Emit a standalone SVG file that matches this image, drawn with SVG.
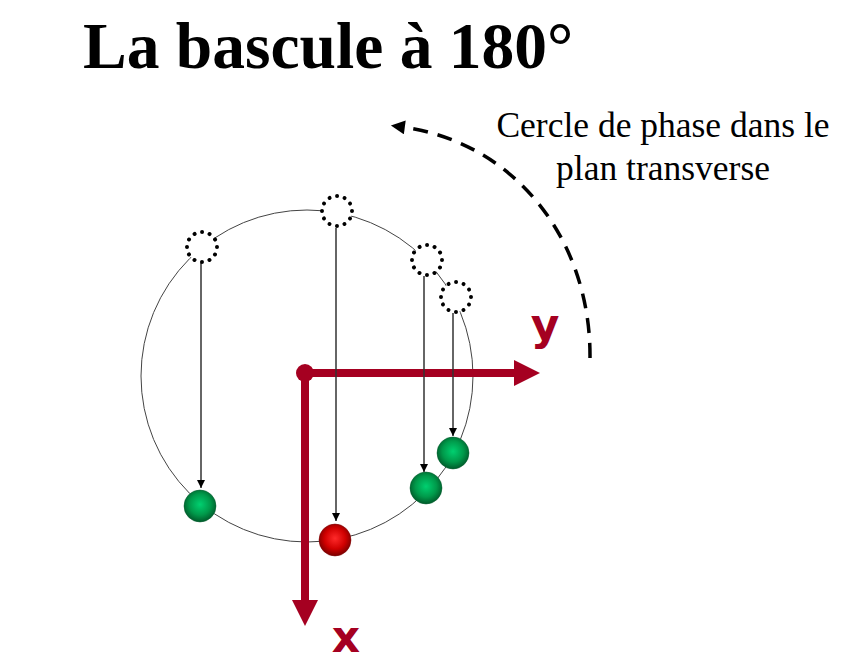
<svg xmlns="http://www.w3.org/2000/svg" width="841" height="664" viewBox="0 0 841 664">
<defs>
<style>
.title{font-family:"Liberation Serif","Times New Roman",serif;font-weight:bold;font-size:65.5px;fill:#000}
.note{font-family:"Liberation Serif","Times New Roman",serif;font-size:35.5px;fill:#000}
.axl{font-family:"DejaVu Sans",Verdana,sans-serif;font-weight:bold;font-size:44px;fill:#a50021}
.ghost{fill:#fff;stroke:#000;stroke-width:4;stroke-linecap:round;stroke-dasharray:0.001 1}
.drop{stroke:#333;stroke-width:1.5;fill:none;marker-end:url(#ah)}
.ax{stroke:#a50021;stroke-width:8;fill:none}
</style>
<radialGradient id="gg" cx="0.5" cy="0.45" r="0.55">
<stop offset="0" stop-color="#00d070"/>
<stop offset="0.6" stop-color="#00994a"/>
<stop offset="1" stop-color="#005a2a"/>
</radialGradient>
<radialGradient id="rg" cx="0.5" cy="0.45" r="0.55">
<stop offset="0" stop-color="#ff2a2a"/>
<stop offset="0.6" stop-color="#d00000"/>
<stop offset="1" stop-color="#7a0000"/>
</radialGradient>
<marker id="ah" viewBox="0 0 10 10" refX="10" refY="5" markerWidth="8" markerHeight="8" markerUnits="userSpaceOnUse" orient="auto">
<path d="M0,0 L10,5 L0,10 z" fill="#000"/>
</marker>
<marker id="dh" viewBox="0 0 10 10" refX="2" refY="5" markerWidth="4.5" markerHeight="4" orient="auto">
<path d="M0,0 L10,5 L0,10 z" fill="#000"/>
</marker>
</defs>

<text class="title" x="83" y="68">La bascule à 180°</text>
<g id="caption">
<text class="note" x="663" y="137" text-anchor="middle">Cercle de phase dans le</text>
<text class="note" x="663" y="180" text-anchor="middle">plan transverse</text>
</g>

<g id="phase-circle">
<circle cx="307" cy="376" r="166" fill="none" stroke="#444" stroke-width="1"/>
</g>

<g id="rotation-arrow">
<path d="M590,358 C591,240 515,142 402,127" fill="none" stroke="#000" stroke-width="3.5" stroke-dasharray="15 10" marker-end="url(#dh)"/>
</g>

<g id="axes">
<path class="ax" d="M305,373 H516"/>
<path d="M514,360 L540,373 L514,386 z" fill="#a50021"/>
<path class="ax" d="M305,373 V602"/>
<path d="M292,600 L305,626 L318,600 z" fill="#a50021"/>
<circle cx="305" cy="373" r="9" fill="#a50021"/>
<text class="axl" x="545" y="340" text-anchor="middle">y</text>
<text class="axl" x="346" y="652" text-anchor="middle">x</text>
</g>

<g id="connectors">
<path class="drop" d="M201,263 V488"/>
<path class="drop" d="M336,228 V521"/>
<path class="drop" d="M424,276 V472"/>
<path class="drop" d="M453,313 V436"/>
</g>

<g id="ghost1"><circle class="ghost" cx="202" cy="247" r="15" pathLength="12"/></g>
<g id="ghost2"><circle class="ghost" cx="337" cy="211" r="15" pathLength="12"/></g>
<g id="ghost3"><circle class="ghost" cx="427" cy="260" r="15" pathLength="12"/></g>
<g id="ghost4"><circle class="ghost" cx="456" cy="297" r="15" pathLength="12"/></g>

<g id="ball1"><circle cx="200" cy="506" r="16" fill="url(#gg)" stroke="#005a2a" stroke-width="0.5"/></g>
<g id="ball2"><circle cx="335" cy="540" r="16" fill="url(#rg)" stroke="#7a0000" stroke-width="0.5"/></g>
<g id="ball3"><circle cx="426" cy="488" r="16" fill="url(#gg)" stroke="#005a2a" stroke-width="0.5"/></g>
<g id="ball4"><circle cx="453" cy="453" r="16" fill="url(#gg)" stroke="#005a2a" stroke-width="0.5"/></g>
</svg>
